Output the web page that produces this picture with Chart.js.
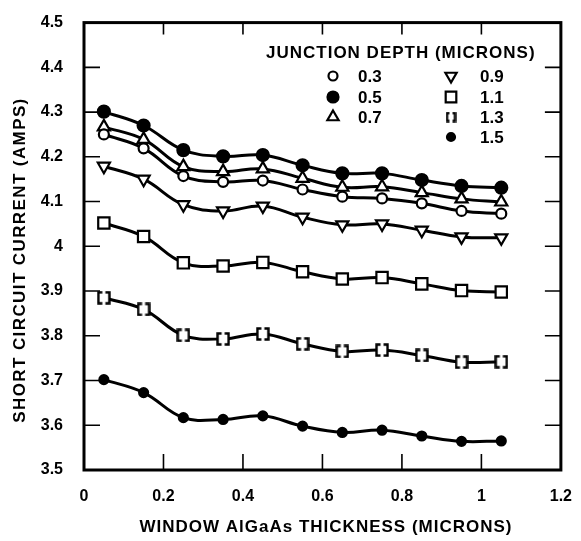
<!DOCTYPE html>
<html>
<head>
<meta charset="utf-8">
<script src="https://cdn.jsdelivr.net/npm/chart.js@4/dist/chart.umd.min.js"></script>
<style>
  html, body { margin: 0; padding: 0; background: #fff; }
  #wrap { width: 581px; height: 541px; position: relative; }
</style>
</head>
<body>
<div id="wrap"><canvas id="chart"></canvas></div>
<script>
// window thickness (microns)
const thickness = [0.05, 0.15, 0.25, 0.35, 0.45, 0.55, 0.65, 0.75, 0.85, 0.95, 1.05];

// short circuit current (amps) per junction depth
const depth03 = [4.250, 4.219, 4.157, 4.144, 4.147, 4.127, 4.111, 4.107, 4.096, 4.079, 4.073];
const depth05 = [4.301, 4.270, 4.215, 4.201, 4.204, 4.181, 4.163, 4.163, 4.148, 4.135, 4.131];
const depth07 = [4.267, 4.239, 4.178, 4.167, 4.173, 4.152, 4.132, 4.133, 4.120, 4.106, 4.099];
const depth09 = [4.179, 4.150, 4.093, 4.079, 4.090, 4.065, 4.048, 4.050, 4.036, 4.021, 4.019];
const depth11 = [4.052, 4.022, 3.963, 3.956, 3.964, 3.943, 3.927, 3.930, 3.916, 3.901, 3.898];
const depth13 = [3.885, 3.859, 3.801, 3.793, 3.804, 3.782, 3.765, 3.768, 3.756, 3.741, 3.742];
const depth15 = [3.702, 3.673, 3.617, 3.613, 3.621, 3.598, 3.584, 3.589, 3.576, 3.564, 3.565];

const depthLabels = ['0.3', '0.5', '0.7', '0.9', '1.1', '1.3', '1.5'];

const xTicks = [0, 0.2, 0.4, 0.6, 0.8, 1, 1.2];
const xTickLabels = ['0', '0.2', '0.4', '0.6', '0.8', '1', '1.2'];
const yTicks = [3.5, 3.6, 3.7, 3.8, 3.9, 4, 4.1, 4.2, 4.3, 4.4, 4.5];
const yTickLabels = ['3.5', '3.6', '3.7', '3.8', '3.9', '4', '4.1', '4.2', '4.3', '4.4', '4.5'];

const xTitle = 'WINDOW AlGaAs THICKNESS (MICRONS)';
const yTitle = 'SHORT CIRCUIT CURRENT (AMPS)';
const legendTitle = 'JUNCTION DEPTH (MICRONS)';

const FONT = '"Liberation Sans", Arial, Helvetica, sans-serif';

// bracket-like marker "( )" for 1.3
const makeBracket = (n) => {
  const c = document.createElement('canvas');
  c.width = n; c.height = n;
  const g = c.getContext('2d');
  const e = n - 1.5, m = n / 2;
  g.fillStyle = '#fff'; g.fillRect(1, 1, n - 2, n - 2);
  g.strokeStyle = '#000'; g.lineWidth = 2.4;
  g.beginPath();
  g.moveTo(m - 1.5, 1.5); g.lineTo(1.5, 1.5); g.lineTo(1.5, e); g.lineTo(m - 1.5, e);
  g.moveTo(m + 1.5, 1.5); g.lineTo(e, 1.5); g.lineTo(e, e); g.lineTo(m + 1.5, e);
  g.stroke();
  return c;
};
const bracketMark = makeBracket(14);
const bracketSmall = makeBracket(11);

const styles = [
  { style: 'circle', radius: 5, fill: '#fff', rot: 0 },
  { style: 'circle', radius: 6, fill: '#000', rot: 0 },
  { style: 'triangle', radius: 7, fill: '#fff', rot: 0 },
  { style: 'triangle', radius: 7, fill: '#fff', rot: 180 },
  { style: 'rect', radius: 8, fill: '#fff', rot: 0 },
  { style: bracketMark, radius: 6, fill: '#fff', rot: 0 },
  { style: 'circle', radius: 4.5, fill: '#000', rot: 0 }
];

const series = [depth03, depth05, depth07, depth09, depth11, depth13, depth15];

const datasets = series.map((vals, i) => ({
  label: depthLabels[i],
  data: vals.map((v, j) => ({ x: thickness[j], y: v })),
  borderColor: '#000',
  borderWidth: 3,
  tension: 0.4,
  pointStyle: styles[i].style,
  pointRadius: styles[i].radius,
  pointRotation: styles[i].rot,
  pointBackgroundColor: styles[i].fill,
  pointBorderColor: '#000',
  pointBorderWidth: 2.2
}));

function spacedText(ctx, txt, x, y, spacing) {
  ctx.letterSpacing = spacing + 'px';
  ctx.fillText(txt, x, y);
  ctx.letterSpacing = '0px';
}

// frame, inward ticks, titles, legend
const framePlugin = {
  id: 'frame',
  afterDraw(chart) {
    const { ctx, chartArea: a, scales } = chart;
    ctx.save();
    ctx.strokeStyle = '#000';
    ctx.lineWidth = 1.6;
    ctx.beginPath();
    yTicks.forEach(v => {
      if (v === 3.5 || v === 4.5) return;
      const y = scales.y.getPixelForValue(v);
      ctx.moveTo(a.left, y); ctx.lineTo(a.left + 16, y);
      ctx.moveTo(a.right, y); ctx.lineTo(a.right - 16, y);
    });
    xTicks.forEach(v => {
      if (v === 0 || v === 1.2) return;
      const x = scales.x.getPixelForValue(v);
      ctx.moveTo(x, a.bottom); ctx.lineTo(x, a.bottom - 16);
      ctx.moveTo(x, a.top); ctx.lineTo(x, a.top + 12);
    });
    ctx.stroke();

    ctx.lineWidth = 3;
    ctx.strokeRect(a.left, a.top, a.right - a.left, a.bottom - a.top);

    ctx.fillStyle = '#000';
    ctx.textBaseline = 'middle';

    // axis titles
    ctx.textAlign = 'center';
    ctx.font = 'bold 17px ' + FONT;
    spacedText(ctx, xTitle, 326, 527, 1);
    ctx.save();
    ctx.translate(20, 260);
    ctx.rotate(-Math.PI / 2);
    spacedText(ctx, yTitle, 0, 0, 1.4);
    ctx.restore();

    // legend
    ctx.textAlign = 'left';
    ctx.font = 'bold 17px ' + FONT;
    spacedText(ctx, legendTitle, 266, 53, 1);
    const cols = [{ sx: 333, tx: 358 }, { sx: 451, tx: 480 }];
    const rows = [76, 97, 117, 137];
    depthLabels.forEach((lab, i) => {
      const col = i < 3 ? cols[0] : cols[1];
      const row = i < 3 ? rows[i] : rows[i - 3];
      const s = styles[i];
      ctx.fillStyle = s.fill;
      ctx.strokeStyle = '#000';
      ctx.lineWidth = 2.2;
      Chart.helpers.drawPoint(ctx, {
        pointStyle: i === 5 ? bracketSmall : s.style, radius: s.radius - 0.5, rotation: s.rot, borderWidth: 2.2
      }, col.sx, row);
      ctx.fillStyle = '#000';
      ctx.font = 'bold 17px ' + FONT;
      ctx.fillText(lab, col.tx, row + 1);
    });
    ctx.restore();
  }
};

new Chart(document.getElementById('chart'), {
  type: 'line',
  data: { datasets },
  plugins: [framePlugin],
  options: {
    responsive: true,
    maintainAspectRatio: false,
    animation: false,
    layout: { padding: { left: 0, right: 11, top: 20, bottom: 0 } },
    plugins: { legend: { display: false }, tooltip: { enabled: false } },
    scales: {
      x: {
        type: 'linear', min: 0, max: 1.2,
        afterBuildTicks: s => { s.ticks = xTicks.map(v => ({ value: v })); },
        afterFit: s => { s.height = 71; },
        grid: { display: false },
        border: { display: false },
        ticks: {
          color: '#000', padding: 9, maxRotation: 0,
          font: { family: FONT, size: 16, weight: 'bold' },
          callback: v => xTickLabels[xTicks.indexOf(v)]
        }
      },
      y: {
        type: 'linear', min: 3.5, max: 4.5,
        afterBuildTicks: s => { s.ticks = yTicks.map(v => ({ value: v })); },
        afterFit: s => { s.width = 84; },
        grid: { display: false },
        border: { display: false },
        ticks: {
          color: '#000', padding: 13,
          font: { family: FONT, size: 16, weight: 'bold' },
          callback: v => yTickLabels[yTicks.indexOf(v)]
        }
      }
    }
  }
});
</script>
</body>
</html>
